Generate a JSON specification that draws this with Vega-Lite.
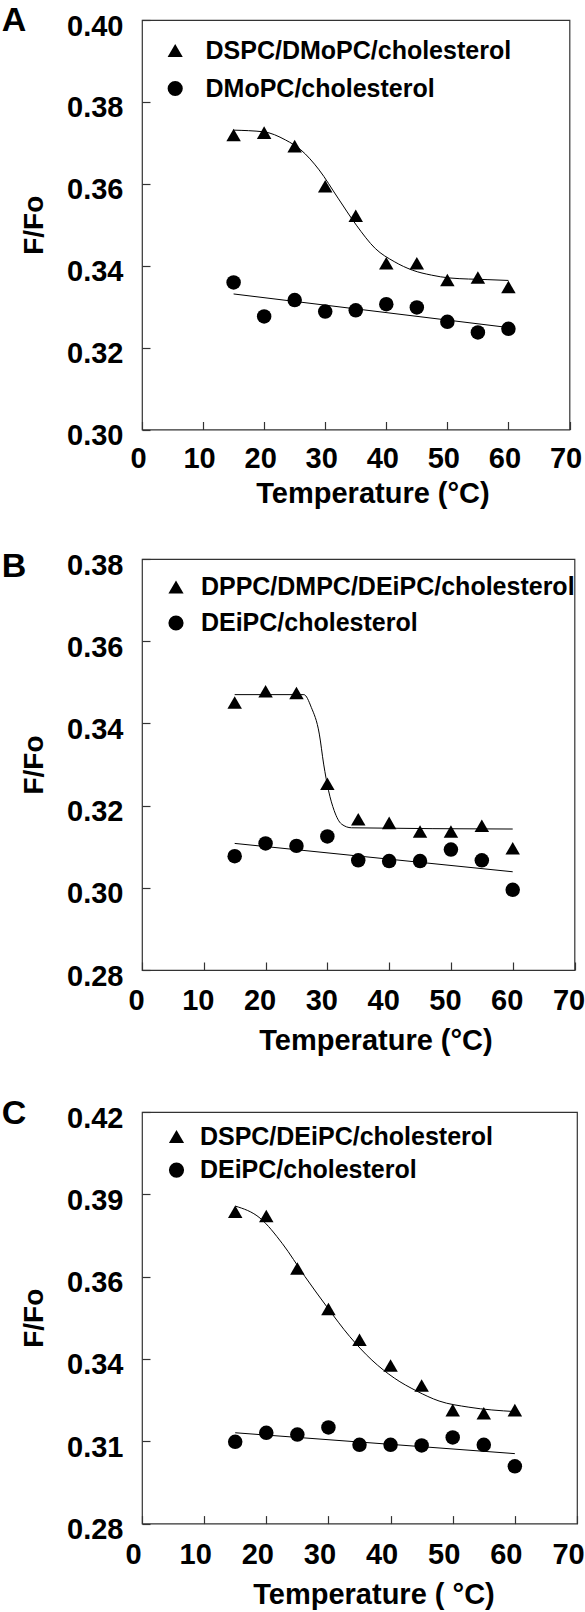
{
  "$schema": "https://vega.github.io/schema/vega-lite/v6.json",
  "background": "white",
  "padding": {"left": 1, "top": 2, "right": 0, "bottom": 0},
  "columns": 1,
  "spacing": 39,
  "config": {
    "font": "Liberation Sans",
    "view": {"stroke": "#333", "strokeWidth": 1.2},
    "axis": {
      "domain": false, "grid": false, "tickColor": "#333", "tickSize": -8, "tickWidth": 1.2,
      "labelFont": "Liberation Sans", "labelFontSize": 29, "labelFontWeight": "bold", "labelColor": "black",
      "labelFlush": false, "labelOverlap": false,
      "titleFont": "Liberation Sans", "titleFontSize": 29, "titleFontWeight": "bold", "titleColor": "black"
    },
    "axisX": {"labelPadding": 23.3, "titlePadding": 5.9, "labelOffset": -4},
    "axisY": {"labelPadding": 27, "titlePadding": 18, "titleFontSize": 28, "labelOffset": 6},
    "legend": {
      "orient": "none", "title": null, "padding": 0, "labelLimit": 1000,
      "labelFont": "Liberation Sans", "labelFontSize": 25, "labelFontWeight": "bold", "labelColor": "black",
      "symbolFillColor": "black", "symbolStrokeColor": "black", "symbolStrokeWidth": 0, "symbolSize": 230,
      "labelOffset": 15, "rowPadding": 12
    },
    "title": {"font": "Liberation Sans", "fontSize": 34, "fontWeight": "bold", "color": "black", "orient": "left", "anchor": "end", "frame": "group", "angle": 0, "align": "right", "baseline": "top", "offset": -30.4}
  },
  "resolve": {"scale": {"shape": "independent", "x": "independent", "y": "independent"}, "legend": {"shape": "independent"}},
  "datasets": {
    "A": [
      {"series": "DSPC/DMoPC/cholesterol", "kind": "data", "t": 15, "f": 0.3719},
      {"series": "DSPC/DMoPC/cholesterol", "kind": "data", "t": 20, "f": 0.3725},
      {"series": "DSPC/DMoPC/cholesterol", "kind": "data", "t": 25, "f": 0.3692},
      {"series": "DSPC/DMoPC/cholesterol", "kind": "data", "t": 30, "f": 0.3594},
      {"series": "DSPC/DMoPC/cholesterol", "kind": "data", "t": 35, "f": 0.3522},
      {"series": "DSPC/DMoPC/cholesterol", "kind": "data", "t": 40, "f": 0.3406},
      {"series": "DSPC/DMoPC/cholesterol", "kind": "data", "t": 45, "f": 0.3406},
      {"series": "DSPC/DMoPC/cholesterol", "kind": "data", "t": 50, "f": 0.3365},
      {"series": "DSPC/DMoPC/cholesterol", "kind": "data", "t": 55, "f": 0.3371},
      {"series": "DSPC/DMoPC/cholesterol", "kind": "data", "t": 60, "f": 0.3348},
      {"series": "DMoPC/cholesterol", "kind": "data", "t": 15, "f": 0.3359},
      {"series": "DMoPC/cholesterol", "kind": "data", "t": 20, "f": 0.3276},
      {"series": "DMoPC/cholesterol", "kind": "data", "t": 25, "f": 0.3316},
      {"series": "DMoPC/cholesterol", "kind": "data", "t": 30, "f": 0.3288},
      {"series": "DMoPC/cholesterol", "kind": "data", "t": 35, "f": 0.3291},
      {"series": "DMoPC/cholesterol", "kind": "data", "t": 40, "f": 0.3306},
      {"series": "DMoPC/cholesterol", "kind": "data", "t": 45, "f": 0.3298},
      {"series": "DMoPC/cholesterol", "kind": "data", "t": 50, "f": 0.3263},
      {"series": "DMoPC/cholesterol", "kind": "data", "t": 55, "f": 0.3237},
      {"series": "DMoPC/cholesterol", "kind": "data", "t": 60, "f": 0.3246},
      {"series": "fit1", "kind": "fit", "t": 15, "f": 0.3731},
      {"series": "fit1", "kind": "fit", "t": 19.9, "f": 0.3727},
      {"series": "fit1", "kind": "fit", "t": 23.5, "f": 0.3707},
      {"series": "fit1", "kind": "fit", "t": 26, "f": 0.3683},
      {"series": "fit1", "kind": "fit", "t": 29, "f": 0.3634},
      {"series": "fit1", "kind": "fit", "t": 32.1, "f": 0.3565},
      {"series": "fit1", "kind": "fit", "t": 35.1, "f": 0.3499},
      {"series": "fit1", "kind": "fit", "t": 38.2, "f": 0.3442},
      {"series": "fit1", "kind": "fit", "t": 41.3, "f": 0.3410},
      {"series": "fit1", "kind": "fit", "t": 44.3, "f": 0.3389},
      {"series": "fit1", "kind": "fit", "t": 47.4, "f": 0.3377},
      {"series": "fit1", "kind": "fit", "t": 50.4, "f": 0.3370},
      {"series": "fit1", "kind": "fit", "t": 56.5, "f": 0.3366},
      {"series": "fit1", "kind": "fit", "t": 60, "f": 0.3364},
      {"series": "fit2", "kind": "fit", "t": 15, "f": 0.3331},
      {"series": "fit2", "kind": "fit", "t": 60, "f": 0.3249}
    ],
    "B": [
      {"series": "DPPC/DMPC/DEiPC/cholesterol", "kind": "data", "t": 15, "f": 0.3451},
      {"series": "DPPC/DMPC/DEiPC/cholesterol", "kind": "data", "t": 20, "f": 0.3478},
      {"series": "DPPC/DMPC/DEiPC/cholesterol", "kind": "data", "t": 25, "f": 0.3474},
      {"series": "DPPC/DMPC/DEiPC/cholesterol", "kind": "data", "t": 30, "f": 0.3253},
      {"series": "DPPC/DMPC/DEiPC/cholesterol", "kind": "data", "t": 35, "f": 0.3167},
      {"series": "DPPC/DMPC/DEiPC/cholesterol", "kind": "data", "t": 40, "f": 0.3158},
      {"series": "DPPC/DMPC/DEiPC/cholesterol", "kind": "data", "t": 45, "f": 0.3137},
      {"series": "DPPC/DMPC/DEiPC/cholesterol", "kind": "data", "t": 50, "f": 0.3137},
      {"series": "DPPC/DMPC/DEiPC/cholesterol", "kind": "data", "t": 55, "f": 0.3151},
      {"series": "DPPC/DMPC/DEiPC/cholesterol", "kind": "data", "t": 60, "f": 0.3096},
      {"series": "DEiPC/cholesterol", "kind": "data", "t": 15, "f": 0.3077},
      {"series": "DEiPC/cholesterol", "kind": "data", "t": 20, "f": 0.3108},
      {"series": "DEiPC/cholesterol", "kind": "data", "t": 25, "f": 0.3102},
      {"series": "DEiPC/cholesterol", "kind": "data", "t": 30, "f": 0.3125},
      {"series": "DEiPC/cholesterol", "kind": "data", "t": 35, "f": 0.3067},
      {"series": "DEiPC/cholesterol", "kind": "data", "t": 40, "f": 0.3065},
      {"series": "DEiPC/cholesterol", "kind": "data", "t": 45, "f": 0.3065},
      {"series": "DEiPC/cholesterol", "kind": "data", "t": 50, "f": 0.3093},
      {"series": "DEiPC/cholesterol", "kind": "data", "t": 55, "f": 0.3067},
      {"series": "DEiPC/cholesterol", "kind": "data", "t": 60, "f": 0.2995},
      {"series": "fit1", "kind": "fit", "t": 15, "f": 0.3470},
      {"series": "fit1", "kind": "fit", "t": 26.2, "f": 0.3470},
      {"series": "fit1", "kind": "fit", "t": 27.4, "f": 0.3439},
      {"series": "fit1", "kind": "fit", "t": 28.7, "f": 0.3374},
      {"series": "fit1", "kind": "fit", "t": 29.4, "f": 0.3301},
      {"series": "fit1", "kind": "fit", "t": 30.2, "f": 0.3236},
      {"series": "fit1", "kind": "fit", "t": 31.1, "f": 0.3188},
      {"series": "fit1", "kind": "fit", "t": 32.3, "f": 0.3155},
      {"series": "fit1", "kind": "fit", "t": 33.9, "f": 0.3146},
      {"series": "fit1", "kind": "fit", "t": 60, "f": 0.3143},
      {"series": "fit2", "kind": "fit", "t": 15, "f": 0.3108},
      {"series": "fit2", "kind": "fit", "t": 60, "f": 0.3039}
    ],
    "C": [
      {"series": "DSPC/DEiPC/cholesterol", "kind": "data", "t": 15, "f": 0.3861},
      {"series": "DSPC/DEiPC/cholesterol", "kind": "data", "t": 20, "f": 0.3846},
      {"series": "DSPC/DEiPC/cholesterol", "kind": "data", "t": 25, "f": 0.3668},
      {"series": "DSPC/DEiPC/cholesterol", "kind": "data", "t": 30, "f": 0.3530},
      {"series": "DSPC/DEiPC/cholesterol", "kind": "data", "t": 35, "f": 0.3425},
      {"series": "DSPC/DEiPC/cholesterol", "kind": "data", "t": 40, "f": 0.3338},
      {"series": "DSPC/DEiPC/cholesterol", "kind": "data", "t": 45, "f": 0.3270},
      {"series": "DSPC/DEiPC/cholesterol", "kind": "data", "t": 50, "f": 0.3186},
      {"series": "DSPC/DEiPC/cholesterol", "kind": "data", "t": 55, "f": 0.3175},
      {"series": "DSPC/DEiPC/cholesterol", "kind": "data", "t": 60, "f": 0.3186},
      {"series": "DEiPC/cholesterol", "kind": "data", "t": 15, "f": 0.3078},
      {"series": "DEiPC/cholesterol", "kind": "data", "t": 20, "f": 0.3109},
      {"series": "DEiPC/cholesterol", "kind": "data", "t": 25, "f": 0.3103},
      {"series": "DEiPC/cholesterol", "kind": "data", "t": 30, "f": 0.3127},
      {"series": "DEiPC/cholesterol", "kind": "data", "t": 35, "f": 0.3068},
      {"series": "DEiPC/cholesterol", "kind": "data", "t": 40, "f": 0.3068},
      {"series": "DEiPC/cholesterol", "kind": "data", "t": 45, "f": 0.3066},
      {"series": "DEiPC/cholesterol", "kind": "data", "t": 50, "f": 0.3093},
      {"series": "DEiPC/cholesterol", "kind": "data", "t": 55, "f": 0.3068},
      {"series": "DEiPC/cholesterol", "kind": "data", "t": 60, "f": 0.2995},
      {"series": "fit1", "kind": "fit", "t": 15, "f": 0.3880},
      {"series": "fit1", "kind": "fit", "t": 19, "f": 0.3839},
      {"series": "fit1", "kind": "fit", "t": 22.6, "f": 0.3752},
      {"series": "fit1", "kind": "fit", "t": 26.2, "f": 0.3641},
      {"series": "fit1", "kind": "fit", "t": 29.8, "f": 0.3536},
      {"series": "fit1", "kind": "fit", "t": 33.4, "f": 0.3437},
      {"series": "fit1", "kind": "fit", "t": 37, "f": 0.3356},
      {"series": "fit1", "kind": "fit", "t": 40.6, "f": 0.3295},
      {"series": "fit1", "kind": "fit", "t": 44.2, "f": 0.3251},
      {"series": "fit1", "kind": "fit", "t": 47.8, "f": 0.3217},
      {"series": "fit1", "kind": "fit", "t": 52.6, "f": 0.3196},
      {"series": "fit1", "kind": "fit", "t": 60, "f": 0.3181},
      {"series": "fit2", "kind": "fit", "t": 15, "f": 0.3109},
      {"series": "fit2", "kind": "fit", "t": 60, "f": 0.3038}
    ]
  },
  "concat": [
    {
      "title": {"text": "A", "dy": -16.5},
      "width": 427.5, "height": 409.5,
      "data": {"name": "A"},
      "layer": [
        {
          "transform": [{"filter": "datum.kind == 'fit'"}],
          "mark": {"type": "line", "color": "black", "strokeWidth": 1, "interpolate": "monotone"},
          "encoding": {
            "x": {"field": "t", "type": "quantitative", "scale": {"domain": [0, 70], "nice": false}, "axis": {"values": [0, 10, 20, 30, 40, 50, 60, 70], "title": "Temperature (°C)", "titleX": 230.5}},
            "y": {"field": "f", "type": "quantitative", "scale": {"domain": [0.30, 0.40], "nice": false, "zero": false}, "axis": {"values": [0.30, 0.32, 0.34, 0.36, 0.38, 0.40], "format": ".2f", "title": "F/Fo"}},
            "detail": {"field": "series"}
          }
        },
        {
          "transform": [{"filter": "datum.kind == 'data'"}],
          "mark": {"type": "point", "filled": true, "color": "black", "opacity": 1, "size": 210},
          "encoding": {
            "x": {"field": "t", "type": "quantitative"},
            "y": {"field": "f", "type": "quantitative"},
            "shape": {"field": "series", "type": "nominal", "scale": {"domain": ["DSPC/DMoPC/cholesterol", "DMoPC/cholesterol"], "range": ["triangle-up", "circle"]}, "legend": {"legendX": 20.7, "legendY": 18, "labelOffset": 17.8, "rowPadding": 12}}
          }
        }
      ]
    },
    {
      "title": {"text": "B", "dy": -9.3},
      "width": 432.5, "height": 411,
      "data": {"name": "B"},
      "layer": [
        {
          "transform": [{"filter": "datum.kind == 'fit'"}],
          "mark": {"type": "line", "color": "black", "strokeWidth": 1, "interpolate": "monotone"},
          "encoding": {
            "x": {"field": "t", "type": "quantitative", "scale": {"domain": [0, 70], "nice": false}, "axis": {"values": [0, 10, 20, 30, 40, 50, 60, 70], "title": "Temperature (°C)", "titleX": 233.5, "labelPadding": 24.5, "titlePadding": 11, "labelOffset": -6}},
            "y": {"field": "f", "type": "quantitative", "scale": {"domain": [0.28, 0.38], "nice": false, "zero": false}, "axis": {"values": [0.28, 0.30, 0.32, 0.34, 0.36, 0.38], "format": ".2f", "title": "F/Fo"}},
            "detail": {"field": "series"}
          }
        },
        {
          "transform": [{"filter": "datum.kind == 'data'"}],
          "mark": {"type": "point", "filled": true, "color": "black", "opacity": 1, "size": 210},
          "encoding": {
            "x": {"field": "t", "type": "quantitative"},
            "y": {"field": "f", "type": "quantitative"},
            "shape": {"field": "series", "type": "nominal", "scale": {"domain": ["DPPC/DMPC/DEiPC/cholesterol", "DEiPC/cholesterol"], "range": ["triangle-up", "circle"]}, "legend": {"legendX": 21.5, "legendY": 15.5, "labelOffset": 12.4, "rowPadding": 10}}
          }
        }
      ]
    },
    {
      "title": {"text": "C", "dy": -14.7},
      "width": 435, "height": 411.6,
      "data": {"name": "C"},
      "layer": [
        {
          "transform": [{"filter": "datum.kind == 'fit'"}],
          "mark": {"type": "line", "color": "black", "strokeWidth": 1, "interpolate": "monotone"},
          "encoding": {
            "x": {"field": "t", "type": "quantitative", "scale": {"domain": [0, 70], "nice": false}, "axis": {"values": [0, 10, 20, 30, 40, 50, 60, 70], "title": "Temperature ( °C)", "titleX": 231.5, "labelPadding": 24.5, "titlePadding": 11.6, "labelOffset": -9}},
            "y": {"field": "f", "type": "quantitative", "scale": {"domain": [0.28, 0.42], "nice": false, "zero": false}, "axis": {"values": [0.28, 0.308, 0.336, 0.364, 0.392, 0.42], "format": ".2f", "title": "F/Fo"}},
            "detail": {"field": "series"}
          }
        },
        {
          "transform": [{"filter": "datum.kind == 'data'"}],
          "mark": {"type": "point", "filled": true, "color": "black", "opacity": 1, "size": 210},
          "encoding": {
            "x": {"field": "t", "type": "quantitative"},
            "y": {"field": "f", "type": "quantitative"},
            "shape": {"field": "series", "type": "nominal", "scale": {"domain": ["DSPC/DEiPC/cholesterol", "DEiPC/cholesterol"], "range": ["triangle-up", "circle"]}, "legend": {"legendX": 22, "legendY": 12, "labelOffset": 10.9, "rowPadding": 7.6}}
          }
        }
      ]
    }
  ]
}
